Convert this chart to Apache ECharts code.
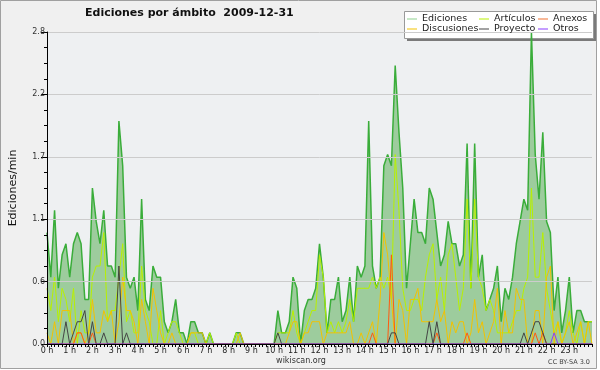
<!DOCTYPE html>
<html><head><meta charset="utf-8">
<script src="https://cdn.jsdelivr.net/npm/echarts@6/dist/echarts.min.js"></script>
<style>html,body{margin:0;padding:0;background:#ffffff}#c{width:600px;height:370px}</style>
</head><body><div id="c"></div>
<script>
// 10-minute bins, 00:00 .. 24:00
const categories = [];
for (let h = 0; h <= 24; h++) { for (let m = 0; m < 60; m += 10) { if (h === 24 && m > 0) break; categories.push(String(h).padStart(2,'0') + ':' + String(m).padStart(2,'0')); } }
const hourLabels = ['0 h','1 h','2 h','3 h','4 h','5 h','6 h','7 h','8 h','9 h','10 h','11 h','12 h','13 h','14 h','15 h','16 h','17 h','18 h','19 h','20 h','21 h','22 h','23 h'];
const yTicks = [0, 0.56, 1.12, 1.68, 2.24, 2.8];

const ediciones = [
 1.0,0.6,1.2,0.5,0.8,0.9,0.6,0.9,1.0,0.9,0.4,0.4,
 1.4,1.1,0.9,1.2,0.7,0.7,0.6,2.0,1.6,0.6,0.5,0.6,
 0.3,1.3,0.4,0.3,0.7,0.6,0.6,0.2,0.1,0.2,0.4,0.1,
 0.1,0,0.2,0.2,0.1,0.1,0,0.1,0,0,0,0,
 0,0,0.1,0.1,0,0,0,0,0,0,0,0,
 0,0.3,0.1,0.1,0.2,0.6,0.5,0,0.3,0.4,0.4,0.5,
 0.9,0.6,0.1,0.4,0.4,0.6,0.2,0.3,0.6,0.2,0.7,0.6,
 0.7,2.0,0.7,0.5,0.6,1.6,1.7,1.6,2.5,1.9,1.4,0.5,
 0.9,1.3,1.0,1.0,0.9,1.4,1.3,1.0,0.7,0.8,1.1,0.9,
 0.9,0.7,0.8,1.8,0.5,1.8,0.6,0.8,0.3,0.4,0.5,0.7,
 0.2,0.5,0.4,0.6,0.9,1.1,1.3,1.2,2.8,1.7,1.3,1.9,
 1.1,1.0,0.3,0.6,0.1,0.3,0.6,0.1,0.3,0.3,0.2,0.2,
 0.2
];
const articulos = [
 0.5,0.3,0.6,0.2,0.5,0.4,0.2,0.5,0,0.3,0.1,0.1,
 0.6,0.7,0.7,1.0,0.2,0.3,0.3,0.6,0.9,0.2,0.3,0.1,
 0.1,0.7,0.3,0.2,0,0,0.3,0,0.1,0.2,0.2,0.1,
 0,0,0.1,0.1,0,0,0,0.1,0,0,0,0,
 0,0,0.1,0,0,0,0,0,0,0,0,0,
 0,0.1,0.1,0.1,0.1,0.3,0.1,0,0.1,0.2,0.3,0.3,
 0.8,0.6,0.1,0.2,0.1,0.2,0.1,0.2,0.4,0.2,0.5,0.5,
 0.5,0.5,0.6,0.5,0.6,0.5,0.6,0.4,1.7,1.2,0.5,0.3,
 0.3,0.4,0.4,0.3,0.6,0.8,0.9,0.4,0.6,0.3,0.8,0.9,
 0.6,0.3,0.5,1.3,0.5,1.3,0.6,0.5,0.3,0.4,0.3,0.1,
 0.1,0.1,0.1,0.2,0.3,0.3,0.5,0.6,1.4,0.6,0.6,1.0,
 0.5,0.3,0.1,0.2,0,0.1,0.3,0.1,0,0.2,0,0.2,
 0.2
];
const discusiones = [
 0.1,0,0.2,0,0.3,0.3,0.3,0,0.1,0.1,0,0.1,
 0.4,0.1,0.1,0.3,0.2,0.3,0,0.2,0.6,0.3,0.3,0.2,
 0,0.4,0.2,0,0.5,0.3,0.1,0,0,0.1,0,0,
 0,0,0.1,0.1,0.1,0.1,0,0,0,0,0,0,
 0,0,0,0.1,0,0,0,0,0,0,0,0,
 0,0,0,0,0.1,0.2,0.2,0,0.1,0.1,0.2,0.2,
 0.2,0,0.1,0.1,0.1,0.1,0.1,0.1,0.2,0,0,0.1,
 0,0.1,0.2,0,0.4,1.0,0.8,0.4,0,0.4,0.3,0,
 0.4,0.4,0.5,0.2,0.2,0.2,0.2,0.4,0.2,0.3,0,0.2,
 0.1,0.2,0.2,0,0.1,0.4,0.1,0.2,0,0.1,0.2,0.5,
 0,0.3,0.1,0.1,0.5,0.4,0.4,0,0,0.3,0.3,0,
 0.6,0.7,0,0.2,0,0.1,0.2,0,0.1,0.2,0,0.2,
 0
];
const anexos = [
 0,0,0,0,0,0,0,0,0.1,0.1,0,0,
 0.1,0,0,0,0,0,0,0,0,0,0,0,
 0,0,0,0,0,0,0,0,0,0,0,0,
 0,0,0,0,0,0,0,0,0,0,0,0,
 0,0,0,0,0,0,0,0,0,0,0,0,
 0,0,0,0,0,0,0,0,0,0,0,0,
 0,0,0,0,0,0,0,0,0,0,0,0,
 0,0,0.1,0,0,0,0,0.8,0,0,0,0,
 0,0,0,0,0,0,0,0.1,0,0,0,0,
 0,0,0,0.1,0,0,0,0,0,0,0,0,
 0,0,0,0,0,0,0,0,0,0.1,0,0.1,
 0,0,0,0,0,0,0,0,0,0,0,0,
 0
];
const proyecto = [
 0,0,0,0,0,0.2,0,0.1,0.2,0.2,0.3,0,
 0.2,0,0,0.1,0,0,0,0.7,0,0.1,0,0,
 0,0,0,0,0,0,0,0,0,0,0,0,
 0,0,0,0,0,0,0,0,0,0,0,0,
 0,0,0,0,0,0,0,0,0,0,0,0,
 0,0.1,0,0,0,0,0,0,0,0,0,0,
 0,0,0,0,0,0,0,0,0,0,0,0,
 0,0,0,0,0,0,0,0.1,0.1,0,0,0,
 0,0,0,0,0,0.2,0,0.2,0,0,0,0,
 0,0,0,0,0,0,0,0,0,0,0,0,
 0,0,0,0,0,0,0.1,0,0.1,0.2,0.2,0.1,
 0,0,0,0,0,0,0,0,0,0,0,0,
 0
];
const otros = [
 0,0,0,0,0,0,0,0,0,0,0,0,
 0,0,0,0,0,0,0,0,0,0,0,0,
 0,0,0,0,0,0,0,0,0,0,0,0,
 0,0,0,0,0,0,0,0,0,0,0,0,
 0,0,0,0,0,0,0,0,0,0,0,0,
 0,0,0,0,0,0,0,0,0,0,0,0,
 0,0,0,0,0,0,0,0,0,0,0,0,
 0,0,0,0,0,0,0,0,0,0,0,0,
 0,0,0,0,0,0,0,0,0,0,0,0,
 0,0,0,0,0,0,0,0,0,0,0,0,
 0,0,0,0,0,0,0,0,0,0,0,0,
 0,0,0.1,0,0,0,0,0,0,0,0,0,
 0
];

const FONT = 'DejaVu Sans';
const colors = {
  Ediciones: '#8fd08f', Discusiones: '#f2c200', 'Artículos': '#b8f000',
  Proyecto: '#444444', Anexos: '#f07030', Otros: '#8a3cff'
};
function lg(names, left) {
  return {
    orient: 'vertical', left: left, top: 14, padding: 0, itemGap: 0,
    selectedMode: false, icon: 'rect', itemWidth: 10, itemHeight: 1,
    textStyle: { fontFamily: FONT, fontSize: 9.5, color: '#222', lineHeight: 10 },
    data: names.map(n => ({ name: n, itemStyle: { color: colors[n] } })),
    z: 10
  };
}
function lineSeries(name, data, color) {
  return { name, type: 'line', data, symbol: 'none', z: 3,
    lineStyle: { color, width: 1 }, itemStyle: { color } };
}

const chart = echarts.init(document.getElementById('c'), null, { renderer: 'canvas' });
chart.setOption({
  animation: false,
  backgroundColor: '#ffffff',
  textStyle: { fontFamily: FONT },
  title: { text: 'Ediciones por ámbito  2009-12-31', left: 85, top: 8, padding: 0,
    textStyle: { fontFamily: FONT, fontSize: 11, fontWeight: 'bold', color: '#111' } },
  legend: [lg(['Ediciones','Discusiones'], 407), lg(['Artículos','Proyecto'], 479), lg(['Anexos','Otros'], 538)],
  grid: { left: 46, right: 8, top: 32, bottom: 26, show: true, backgroundColor: '#eef0f2', borderWidth: 0 },
  xAxis: {
    type: 'category', data: categories, boundaryGap: false, z: 10,
    axisLine: { lineStyle: { color: '#000', width: 1 } },
    axisTick: { show: true, interval: 0, length: 3, lineStyle: { color: '#000' } },
    axisLabel: { interval: 5, margin: 3, fontSize: 8, color: '#222', fontFamily: FONT,
      formatter: (v, idx) => (idx % 6 === 0 && hourLabels[idx / 6]) ? hourLabels[idx / 6] : '' },
    splitLine: { show: false }
  },
  yAxis: {
    type: 'value', min: yTicks[0], max: yTicks[yTicks.length - 1], interval: yTicks[1], z: 10,
    name: 'Ediciones/min', nameLocation: 'middle', nameGap: 28,
    nameTextStyle: { fontFamily: FONT, fontSize: 11, color: '#111' },
    axisLine: { show: true, lineStyle: { color: '#000', width: 1 } },
    axisTick: { show: true, length: 6, lineStyle: { color: '#000' } },
    minorTick: { show: true, splitNumber: 4, length: 3, lineStyle: { color: '#000' } },
    axisLabel: { margin: 2, fontSize: 8, color: '#333', fontFamily: FONT, formatter: v => v.toFixed(1) },
    splitLine: { show: true, lineStyle: { color: '#cccccc', width: 1 } }
  },
  graphic: [
    { type: 'rect', z: -10, silent: true, shape: { x: 0.5, y: 0.5, width: 596, height: 368 },
      style: { fill: '#f0f0f0', stroke: '#a0a0a0', lineWidth: 1 } },
    { type: 'rect', z: 1, silent: true, shape: { x: 407, y: 14, width: 189, height: 27 },
      style: { fill: '#7a7a7a' } },
    { type: 'rect', z: 1, silent: true, shape: { x: 404.5, y: 11.5, width: 189, height: 27 },
      style: { fill: '#ffffff', stroke: '#999999', lineWidth: 1 } },
    { type: 'text', z: 5, silent: true, x: 301, y: 361,
      style: { text: 'wikiscan.org', fontFamily: FONT, fontSize: 8, fill: '#333', align: 'center', verticalAlign: 'middle' } },
    { type: 'text', z: 5, silent: true, x: 590, y: 362,
      style: { text: 'CC BY-SA 3.0', fontFamily: FONT, fontSize: 6.5, fill: '#444', align: 'right', verticalAlign: 'middle' } }
  ],
  series: [
    { name: 'Ediciones', type: 'line', data: ediciones, symbol: 'none', z: 2,
      lineStyle: { color: '#3aad3a', width: 1.5 }, itemStyle: { color: colors.Ediciones },
      areaStyle: { color: '#9dcc9d', opacity: 1 } },
    lineSeries('Artículos', articulos, colors['Artículos']),
    lineSeries('Discusiones', discusiones, colors.Discusiones),
    lineSeries('Anexos', anexos, '#ff5a10'),
    lineSeries('Proyecto', proyecto, colors.Proyecto),
    lineSeries('Otros', otros, colors.Otros)
  ]
});
</script></body></html>
